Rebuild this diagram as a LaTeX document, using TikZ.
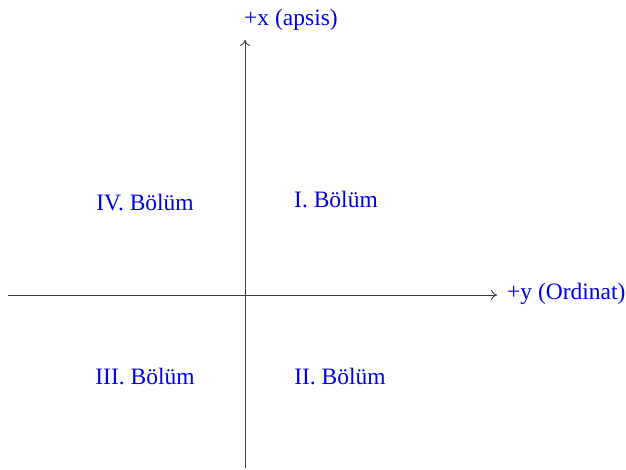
\documentclass[tikz,border=0pt]{standalone}
\usepackage{fontspec}
\setmainfont{Liberation Serif}
\usetikzlibrary{arrows.meta}
\begin{document}
\begin{tikzpicture}[x=1pt,y=-1pt,
  lbl/.style={text=blue!90!black, font=\fontsize{23.5}{27}\selectfont, inner sep=0pt, anchor=base},
  axis/.style={draw=black!75, line width=0.9pt}]
\useasboundingbox (0,0) rectangle (626,469);
\coordinate (xs) at (245,468);
\coordinate (xe) at (245,40);
\coordinate (ys) at (8,295);
\coordinate (ye) at (497,295);
\draw[axis,-{To[length=6pt,width=10pt]}] (xs) -- (xe);
\draw[axis,-{To[length=6pt,width=10pt]}] (ys) -- (ye);
\node[lbl] (lx) at (291,25) {+x (apsis)};
\node[lbl,anchor=base west] (ly) at (507,299) {+y (Ordinat)};
\node[lbl] (q4) at (145,210) {IV. Bölüm};
\node[lbl] (q1) at (336,207) {I. Bölüm};
\node[lbl] (q3) at (145,384) {III. Bölüm};
\node[lbl] (q2) at (340,384) {II. Bölüm};
\end{tikzpicture}
\end{document}
